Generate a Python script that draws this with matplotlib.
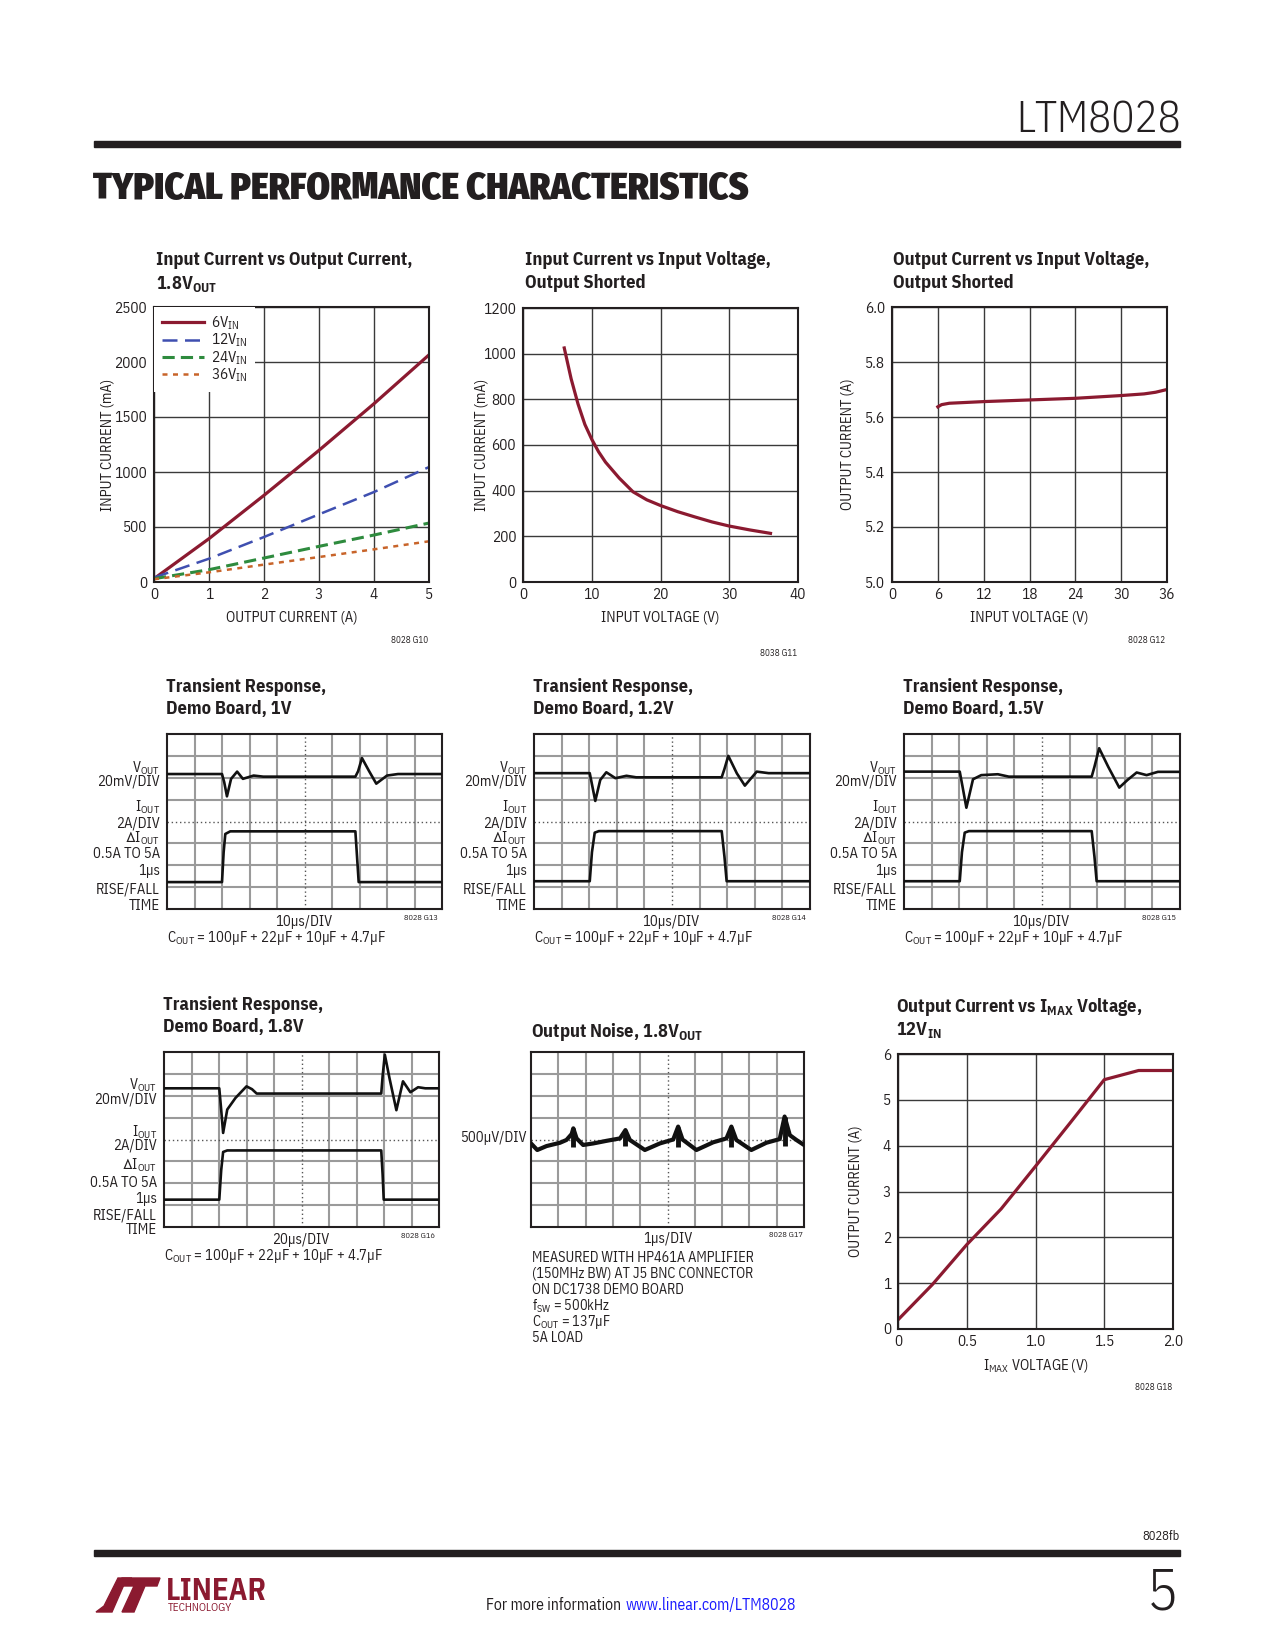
import numpy as np
import matplotlib
matplotlib.use('Agg')
from matplotlib import pyplot as plt
from matplotlib.patches import Rectangle, Polygon

FONT = 'IBM Plex Sans Condensed'
plt.rcParams['font.family'] = [FONT, 'DejaVu Sans']
plt.rcParams['mathtext.fontset'] = 'custom'
plt.rcParams['mathtext.rm'] = FONT
plt.rcParams['mathtext.bf'] = FONT + ':bold'
plt.rcParams['mathtext.it'] = FONT + ':italic'
plt.rcParams['mathtext.fallback'] = 'stixsans'
plt.rcParams['text.color'] = '#231f20'
plt.rcParams['xtick.color'] = '#231f20'
plt.rcParams['ytick.color'] = '#231f20'

INK = '#231f20'
RED = '#8b1a30'

# ---- G10: input current vs output current, 1.8Vout
iout_a = [0, 1, 2, 3, 4, 5]
iin_6v = [30, 394, 788, 1197, 1621, 2065]
iin_12v = [40, 212, 409, 615, 818, 1045]
iin_24v = [30, 112, 218, 324, 427, 536]
iin_36v = [25, 88, 158, 227, 297, 370]
vin_names = ['6V$_{\\mathrm{IN}}$', '12V$_{\\mathrm{IN}}$', '24V$_{\\mathrm{IN}}$', '36V$_{\\mathrm{IN}}$']

# ---- G11: input current vs input voltage, output shorted
vin_short = [6, 7, 8, 9, 10, 11, 12, 14, 16, 18, 20, 22.5, 25, 27.5, 30, 33, 36]
iin_short = [1025, 890, 780, 690, 625, 570, 525, 455, 395, 360, 335, 308, 285, 263, 245, 228, 213]

# ---- G12: output current vs input voltage, output shorted
vin_g12 = [6, 6.5, 7.5, 9, 12, 18, 24, 30, 33, 34.5, 36]
iout_g12 = [5.637, 5.645, 5.650, 5.652, 5.656, 5.662, 5.668, 5.678, 5.684, 5.690, 5.700]

# ---- G18: output current vs IMAX voltage, 12Vin
vimax = [0, 0.25, 0.5, 0.75, 1.0, 1.25, 1.5, 1.75, 2.0]
iout_imax = [0.20, 0.97, 1.84, 2.62, 3.55, 4.49, 5.44, 5.64, 5.64]

# ---- scope traces (divisions: x 0..10, y 0..8)
t1_vx = [0, 2.0, 2.08, 2.18, 2.33, 2.55, 2.76, 3.15, 3.5, 6.85, 6.95, 7.09, 7.35, 7.61, 8.0, 8.4, 10]
t1_vy = [6.17, 6.17, 5.8, 5.15, 5.95, 6.28, 5.95, 6.1, 6.05, 6.05, 6.3, 6.9, 6.3, 5.73, 6.1, 6.17, 6.17]
t1_ix = [0, 2.0, 2.06, 2.12, 2.3, 6.85, 6.91, 6.97, 10]
t1_iy = [1.23, 1.23, 2.6, 3.43, 3.55, 3.55, 2.4, 1.23, 1.23]

t2_vx = [0, 2.02, 2.1, 2.22, 2.4, 2.62, 2.95, 3.35, 3.7, 6.8, 6.9, 7.04, 7.35, 7.64, 8.07, 8.5, 10]
t2_vy = [6.21, 6.21, 5.7, 4.94, 5.9, 6.25, 5.98, 6.09, 6.02, 6.02, 6.4, 7.0, 6.2, 5.64, 6.28, 6.21, 6.21]
t2_ix = [0, 2.02, 2.1, 2.2, 2.35, 6.8, 6.9, 6.98, 10]
t2_iy = [1.27, 1.27, 2.6, 3.49, 3.56, 3.56, 2.4, 1.27, 1.27]

t3_vx = [0, 2.02, 2.12, 2.26, 2.5, 2.8, 3.4, 3.8, 6.8, 6.9, 7.07, 7.4, 7.8, 8.1, 8.43, 8.79, 9.2, 10]
t3_vy = [6.28, 6.28, 5.6, 4.63, 5.93, 6.12, 6.16, 6.05, 6.05, 6.5, 7.35, 6.5, 5.55, 5.9, 6.24, 6.12, 6.27, 6.27]
t3_ix = [0, 2.02, 2.1, 2.2, 2.35, 6.8, 6.9, 6.98, 10]
t3_iy = [1.27, 1.27, 2.6, 3.49, 3.56, 3.56, 2.4, 1.27, 1.27]

t4_vx = [0, 2.01, 2.07, 2.15, 2.3, 2.6, 3.0, 3.2, 3.37, 7.9, 7.95, 8.03, 8.2, 8.45, 8.69, 8.96, 9.24, 9.5, 10]
t4_vy = [6.34, 6.34, 5.5, 4.3, 5.37, 5.9, 6.43, 6.3, 6.1, 6.1, 6.9, 7.88, 6.8, 5.34, 6.66, 6.16, 6.39, 6.34, 6.34]
t4_ix = [0, 2.01, 2.08, 2.15, 2.3, 7.9, 7.95, 7.99, 10]
t4_iy = [1.25, 1.25, 2.6, 3.43, 3.5, 3.5, 2.4, 1.25, 1.25]

noise_x = [0, 0.23, 0.57, 1.06, 1.3, 1.49, 1.55, 1.67, 1.91, 2.28, 2.77, 3.26, 3.46, 3.62, 4.17,
           4.72, 5.21, 5.39, 5.55, 6.06, 6.67, 7.16, 7.34, 7.52, 8.07, 8.62, 9.11, 9.29, 9.48, 9.72, 10]
noise_y = [3.82, 3.52, 3.70, 3.85, 3.98, 4.25, 4.51, 4.05, 3.75, 3.82, 3.94, 4.05, 4.43, 3.98, 3.52,
           3.82, 4.00, 4.59, 4.00, 3.52, 3.87, 4.05, 4.59, 3.98, 3.52, 3.85, 4.02, 5.05, 4.20, 3.98, 3.75]
spike_x = [1.55, 3.46, 5.39, 7.34, 9.29]
spike_top = [4.51, 4.43, 4.59, 4.59, 5.05]
spike_bot = [3.67, 3.70, 3.65, 3.68, 3.72]

W, H = 1275, 1650
fig = plt.figure(figsize=(W / 100, H / 100), dpi=100)


def box(l, t, r, b):
    return fig.add_axes([l / W, 1 - b / H, (r - l) / W, (b - t) / H])


def put(x, y, s, **kw):
    kw.setdefault('va', 'center')
    fig.text(x / W, 1 - y / H, s, **kw)


def graph(rect, xlim, ylim, xticks, yticks, xlabel, ylabel, ylab_x, xlab_y, xtl=None, ytl=None):
    ax = box(*rect)
    ax.set_xlim(xlim)
    ax.set_ylim(ylim)
    ax.set_xticks(xticks)
    ax.set_yticks(yticks)
    if xtl is not None:
        ax.set_xticklabels(xtl)
    if ytl is not None:
        ax.set_yticklabels(ytl)
    ax.grid(True, color='#3a3a3a', lw=1)
    ax.set_axisbelow(True)
    ax.tick_params(axis='x', length=0, labelsize=11, pad=4.5)
    ax.tick_params(axis='y', length=0, labelsize=11, pad=5)
    for s in ax.spines.values():
        s.set_linewidth(1.5)
        s.set_color(INK)
    ax.set_xlabel(xlabel, fontsize=10.5, color=INK)
    ax.set_ylabel(ylabel, fontsize=10.5, color=INK)
    l, t, r, b = rect
    ax.xaxis.label.set_va('center')
    ax.yaxis.label.set_va('center')
    ax.xaxis.set_label_coords(0.5, (b - xlab_y) / (b - t))
    ax.yaxis.set_label_coords((ylab_x - l) / (r - l), 0.5)
    return ax


def scope(rect):
    ax = box(*rect)
    ax.set_xlim(0, 10)
    ax.set_ylim(0, 8)
    ax.set_xticks([1, 2, 3, 4, 6, 7, 8, 9])
    ax.set_yticks([1, 2, 3, 5, 6, 7])
    ax.grid(True, color='#9a9a9a', lw=1.5)
    ax.set_axisbelow(True)
    ax.tick_params(length=0, labelbottom=False, labelleft=False)
    ax.axvline(5, color='#555555', lw=1, ls=(0, (1, 2)), zorder=1)
    ax.axhline(4, color='#555555', lw=1, ls=(0, (1, 2)), zorder=1)
    for s in ax.spines.values():
        s.set_linewidth(1.5)
        s.set_color(INK)
    return ax


def title(x, y, lines, dy=23):
    for i, s in enumerate(lines):
        put(x, y + i * dy, s, fontsize=13.2, fontweight='bold', ha='left')


# ---------------- header / footer
put(1181, 121, 'LTM8028', fontsize=31, fontweight=300, ha='right')
fig.patches.append(Rectangle((94 / W, 1 - 147 / H), (1180 - 94) / W, 6 / H,
                             transform=fig.transFigure, color=INK))
put(93, 189, 'TYPICAL PERFORMANCE CHARACTERISTICS', fontsize=27, fontweight=900,
    family=['Fira Sans Condensed', FONT], ha='left')

put(1180, 1537, '8028fb', fontsize=9, ha='right')
fig.patches.append(Rectangle((94 / W, 1 - 1556 / H), (1180 - 94) / W, 6 / H,
                             transform=fig.transFigure, color=INK))
put(1163, 1594, '5', fontsize=42, fontweight=300, ha='center')
put(621, 1605, 'For more information', fontsize=11.3, ha='right')
put(626, 1605, 'www.linear.com/LTM8028', fontsize=11.3, ha='left', color='#1a1aff')
fig.patches.append(Polygon([(96 / W, 1 - 1612 / H), (112 / W, 1 - 1612 / H), (126 / W, 1 - 1580 / H),
                            (132 / W, 1 - 1578 / H), (118 / W, 1 - 1578 / H), (104 / W, 1 - 1606 / H)],
                           closed=True, transform=fig.transFigure, color=RED))
fig.patches.append(Polygon([(122 / W, 1 - 1578 / H), (160 / W, 1 - 1578 / H), (157 / W, 1 - 1586 / H),
                            (145 / W, 1 - 1586 / H), (134 / W, 1 - 1612 / H), (122 / W, 1 - 1612 / H),
                            (134 / W, 1 - 1586 / H), (119 / W, 1 - 1586 / H)],
                           closed=True, transform=fig.transFigure, color=RED))
put(166, 1591, 'LINEAR', fontsize=22, fontweight='bold', ha='left', color=RED)
put(168, 1608, 'TECHNOLOGY', fontsize=8, ha='left', color=RED)

# ---------------- G10
title(156, 260, ['Input Current vs Output Current,', '1.8V$_{\\mathbf{OUT}}$'], dy=24)
ax = graph((154, 307, 429, 582), (0, 5), (0, 2500), range(6), range(0, 2501, 500),
           'OUTPUT CURRENT (A)', 'INPUT CURRENT (mA)', 108, 617)
ax.plot(iout_a, iin_6v, color=RED, lw=2.3, label=vin_names[0])
ax.plot(iout_a, iin_12v, color='#3f4fb0', lw=1.8, ls=(0, (6, 3)), label=vin_names[1])
ax.plot(iout_a, iin_24v, color='#2e8b3e', lw=2.2, ls=(0, (4, 2)), label=vin_names[2])
ax.plot(iout_a, iin_36v, color='#c8642a', lw=1.8, ls=(0, (2, 2.2)), label=vin_names[3])
leg = ax.legend(loc='upper left', bbox_to_anchor=(0.0, 1.0), fontsize=11, frameon=True,
                handlelength=2.8, handletextpad=0.4, labelspacing=0.0, borderpad=0.5,
                borderaxespad=0, fancybox=False)
leg.get_frame().set_edgecolor('none')
leg.get_frame().set_facecolor('white')
leg.get_frame().set_alpha(1)
put(428, 640, '8028 G10', fontsize=6.5, ha='right')

# ---------------- G11
title(525, 260, ['Input Current vs Input Voltage,', 'Output Shorted'])
ax = graph((523, 308, 798, 582), (0, 40), (0, 1200), range(0, 41, 10), range(0, 1201, 200),
           'INPUT VOLTAGE (V)', 'INPUT CURRENT (mA)', 481, 618)
ax.plot(vin_short, iin_short, color=RED, lw=2.3)
put(797, 653, '8038 G11', fontsize=6.5, ha='right')

# ---------------- G12
title(893, 260, ['Output Current vs Input Voltage,', 'Output Shorted'])
ax = graph((892, 307, 1167, 582), (0, 36), (5.0, 6.0), range(0, 37, 6), [5.0, 5.2, 5.4, 5.6, 5.8, 6.0],
           'INPUT VOLTAGE (V)', 'OUTPUT CURRENT (A)', 848, 617,
           ytl=['5.0', '5.2', '5.4', '5.6', '5.8', '6.0'])
ax.plot(vin_g12, iout_g12, color=RED, lw=2.3)
put(1165, 640, '8028 G12', fontsize=6.5, ha='right')

# ---------------- transient scope shots
left_lines = ['V$_{\\mathrm{OUT}}$', '20mV/DIV', 'I$_{\\mathrm{OUT}}$', '2A/DIV', '$\\Delta$I$_{\\mathrm{OUT}}$',
              '0.5A TO 5A', '1\u00b5s', 'RISE/FALL', 'TIME']
offs_top = [34, 48, 73, 89, 104, 120, 137, 155, 172]
offs_bot = [33, 47, 80, 94, 113, 131, 147, 164, 178]
cout_txt = 'C$_{\\mathrm{OUT}}$ = 100\u00b5F + 22\u00b5F + 10\u00b5F + 4.7\u00b5F'

shots = [
    ((167, 734, 442, 909), 'Demo Board, 1V', t1_vx, t1_vy, t1_ix, t1_iy, '10\u00b5s/DIV', '8028 G13', offs_top),
    ((534, 734, 810, 909), 'Demo Board, 1.2V', t2_vx, t2_vy, t2_ix, t2_iy, '10\u00b5s/DIV', '8028 G14', offs_top),
    ((904, 734, 1180, 909), 'Demo Board, 1.5V', t3_vx, t3_vy, t3_ix, t3_iy, '10\u00b5s/DIV', '8028 G15', offs_top),
    ((164, 1052, 439, 1227), 'Demo Board, 1.8V', t4_vx, t4_vy, t4_ix, t4_iy, '20\u00b5s/DIV', '8028 G16', offs_bot),
]
for rect, sub, vx, vy, ix, iy, tdiv, code, offs in shots:
    l, t, r, b = rect
    title(l - 1, t - 47, ['Transient Response,', sub], dy=22)
    ax = scope(rect)
    ax.plot(vx, vy, color='#111111', lw=1.9, zorder=3)
    ax.plot(ix, iy, color='#111111', lw=1.9, zorder=3)
    for s, o in zip(left_lines, offs):
        put(l - 7, t + o, s, fontsize=10.5, ha='right')
    put((l + r) / 2 - 1, b + 13, tdiv, fontsize=10.5, ha='center')
    put(r - 4, b + 9, code, fontsize=6, ha='right')
    put(l, b + 29, cout_txt, fontsize=10.5, ha='left')

# ---------------- G17 output noise
put(531, 1032, 'Output Noise, 1.8V$_{\\mathbf{OUT}}$', fontsize=13.2, fontweight='bold', ha='left')
ax = scope((531, 1052, 804, 1227))
ax.plot(noise_x, noise_y, color='#111111', lw=3, zorder=3)
ax.vlines(spike_x, spike_bot, spike_top, color='#111111', lw=3.5, zorder=3)
put(527, 1138, '500\u00b5V/DIV', fontsize=10.5, ha='right')
put(668, 1239, '1\u00b5s/DIV', fontsize=10.5, ha='center')
put(803, 1235, '8028 G17', fontsize=6, ha='right')
notes = ['MEASURED WITH HP461A AMPLIFIER', '(150MHz BW) AT J5 BNC CONNECTOR', 'ON DC1738 DEMO BOARD',
         'f$_{\\mathrm{SW}}$ = 500kHz', 'C$_{\\mathrm{OUT}}$ = 137\u00b5F', '5A LOAD']
for i, s in enumerate(notes):
    put(532, 1258 + i * 16, s, fontsize=10.3, ha='left')

# ---------------- G18
title(896, 1007, ['Output Current vs I$_{\\mathbf{MAX}}$ Voltage,', '12V$_{\\mathbf{IN}}$'])
ax = graph((898, 1054, 1173, 1329), (0, 2), (0, 6), [0, 0.5, 1.0, 1.5, 2.0], range(7),
           'I$_{\\mathrm{MAX}}$ VOLTAGE (V)', 'OUTPUT CURRENT (A)', 855, 1365,
           xtl=['0', '0.5', '1.0', '1.5', '2.0'])
ax.plot(vimax, iout_imax, color=RED, lw=2.3)
put(1172, 1388, '8028 G18', fontsize=6.5, ha='right')

fig.savefig('out.png', dpi=100, facecolor='white')
